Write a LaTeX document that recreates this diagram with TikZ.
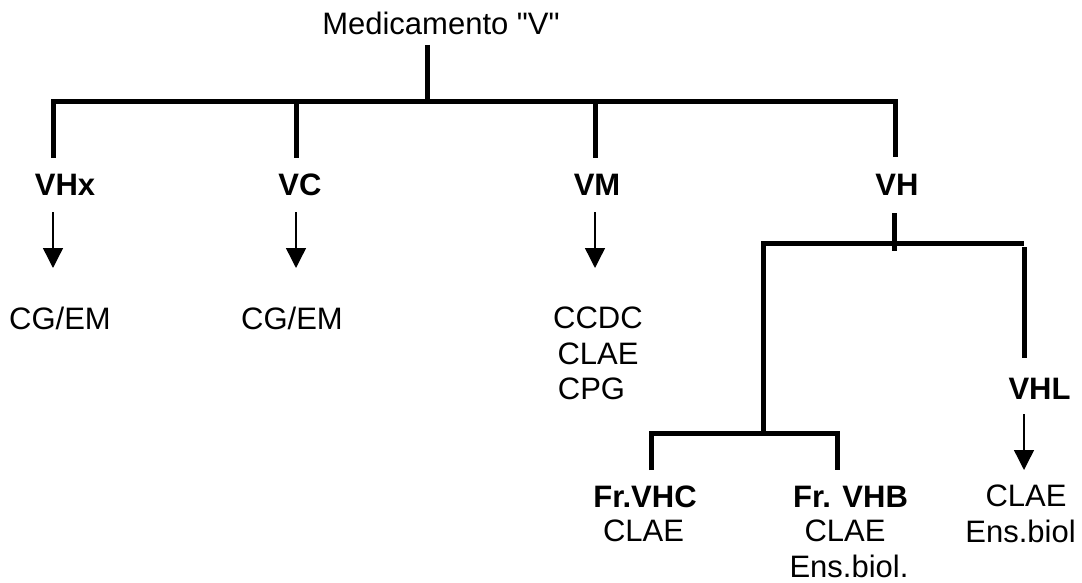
\documentclass[tikz,border=0pt]{standalone}
\usepackage{fontspec}
\setmainfont{Liberation Sans}[Ligatures=TeXOff]
\usetikzlibrary{arrows.meta}
\begin{document}
\begin{tikzpicture}[x=1pt,y=-1pt,
  thk/.style={line width=5pt, line cap=butt, line join=miter},
  arr/.style={line width=1.4pt, -{Triangle[width=20pt,length=20pt]}},
  lbl/.style={inner sep=0pt, anchor=base, font=\fontsize{31pt}{36pt}\selectfont},
  blbl/.style={inner sep=0pt, anchor=base, font=\fontsize{31pt}{36pt}\selectfont\bfseries}]
\useasboundingbox (0,0) rectangle (1082,583);

% texts
\node[lbl]  (title) at (441,35) {Medicamento "V"};
\node[blbl] (vhx) at (65,196) {VHx};
\node[blbl] (vc)  at (300,196) {VC};
\node[blbl] (vm)  at (597,196) {VM};
\node[blbl] (vh)  at (897,196) {VH};
\node[lbl] (cg1) at (60,329) {CG/EM};
\node[lbl] (cg2) at (292,329) {CG/EM};
\node[lbl] (ccdc) at (598,328) {CCDC};
\node[lbl] (clae1) at (598,364) {CLAE};
\node[lbl] (cpg) at (591.5,399) {CPG};
\node[blbl] (vhl) at (1039.5,399) {VHL};
\node[lbl] (clae2) at (1026,506) {CLAE};
\node[lbl] (ens2) at (1020.5,542) {Ens.biol};
\node[blbl] (frvhc) at (645,507) {Fr.VHC};
\node[lbl] (clae3) at (643.5,541) {CLAE};
\node[blbl] (frvhb) at (850.5,507) {Fr. VHB};
\node[lbl] (clae4) at (845,541) {CLAE};
\node[lbl] (ens4) at (849,577) {Ens.biol.};

% junction coordinates
\coordinate (t0) at (427,45);
\coordinate (t1) at (427,102);
\coordinate (barL) at (53,102);
\coordinate (barR) at (895,102);
\coordinate (vhxU) at (53,158);
\coordinate (vcB) at (296,102);
\coordinate (vcU) at (296,158);
\coordinate (vmB) at (595,102);
\coordinate (vmU) at (595,158);
\coordinate (vhU) at (895,157);

\coordinate (a1s) at (53,212);   \coordinate (a1e) at (53,268);
\coordinate (a2s) at (296,212);  \coordinate (a2e) at (296,268);
\coordinate (a3s) at (595,212);  \coordinate (a3e) at (595,268);
\coordinate (a4s) at (1024,414); \coordinate (a4e) at (1024,470);

\coordinate (hs0) at (894,213);
\coordinate (hs1) at (894,251);
\coordinate (hbL) at (763,243);
\coordinate (hbR) at (1024,243);
\coordinate (hlow) at (763,433);
\coordinate (vhlT) at (1024,247);
\coordinate (vhlB) at (1024,358);
\coordinate (bbL) at (651,433);
\coordinate (bbR) at (837,433);
\coordinate (bbLd) at (651,470);
\coordinate (bbRd) at (837,470);

% connectors
\draw[thk] (t0) -- (t1);
\draw[thk] (vhxU) -- (barL) -- (barR) -- (vhU);
\draw[thk] (vcB) -- (vcU);
\draw[thk] (vmB) -- (vmU);

\draw[arr] (a1s) -- (a1e);
\draw[arr] (a2s) -- (a2e);
\draw[arr] (a3s) -- (a3e);
\draw[arr] (a4s) -- (a4e);

\draw[thk] (hs0) -- (hs1);
\draw[thk] (hlow) -- (hbL) -- (hbR);
\draw[thk] (vhlT) -- (vhlB);
\draw[thk] (bbLd) -- (bbL) -- (bbR) -- (bbRd);
\end{tikzpicture}
\end{document}
